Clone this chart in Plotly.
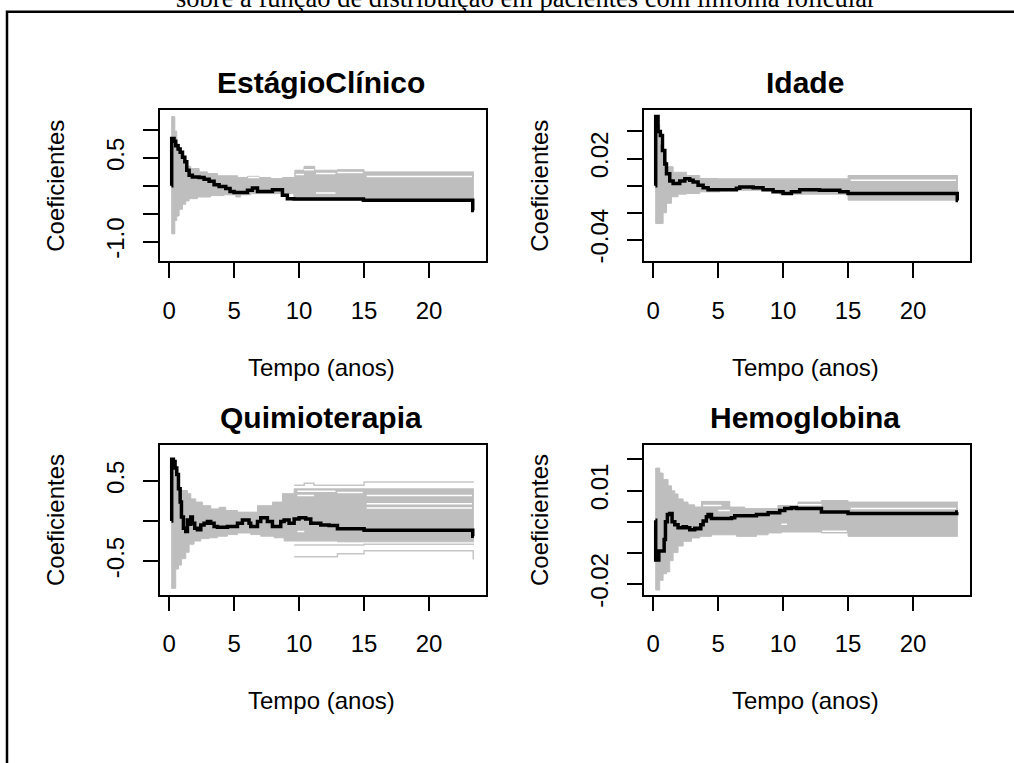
import plotly.graph_objects as go

W, H = 1014, 763

# ---------------- data ----------------
# Panel 1: EstágioClínico
est_t = [0.18, 0.20, 0.38, 0.51, 0.69, 0.85, 1.03, 1.21, 1.36, 1.54, 1.79, 2.31, 2.69, 3.08, 3.46,
         3.85, 4.36, 4.69, 5.00, 6.03, 6.41, 6.80, 7.95, 8.72, 9.10, 9.60, 14.95, 23.36, 23.45]
est_coef = [0.00, 0.85, 0.80, 0.72, 0.66, 0.60, 0.51, 0.43, 0.28, 0.19, 0.16, 0.15, 0.12, 0.08, 0.02,
            -0.01, -0.05, -0.10, -0.12, -0.08, -0.04, -0.10, -0.07, -0.17, -0.23, -0.235, -0.26, -0.44, -0.44]
est_up_t = [0.18, 0.20, 0.44, 0.59, 0.77, 1.03, 1.28, 1.67, 2.31, 2.95, 3.72, 5.26, 6.03, 6.92, 7.82,
            8.72, 9.67, 10.38, 11.20, 12.95, 15.00, 23.45]
est_up = [0.00, 1.24, 0.98, 0.75, 0.57, 0.43, 0.35, 0.31, 0.25, 0.22, 0.18, 0.15, 0.17, 0.15, 0.13,
          0.15, 0.28, 0.35, 0.28, 0.29, 0.25, 0.25]
est_lo_t = [0.18, 0.20, 0.44, 0.59, 0.77, 1.03, 1.28, 1.54, 2.18, 3.20, 4.23, 5.13, 5.50, 6.28, 9.60,
            14.95, 23.45]
est_lo = [0.00, -0.86, -0.62, -0.54, -0.42, -0.33, -0.27, -0.23, -0.20, -0.175, -0.16, -0.20, -0.16,
          -0.14, -0.26, -0.28, -0.28]
est_gap_t0 = [6.08, 9.74, 10.38, 11.30, 12.95, 15.20, 11.30]
est_gap_t1 = [6.92, 10.38, 11.15, 12.80, 14.90, 23.30, 12.80]
est_gap_v = [0.15, 0.205, 0.29, 0.22, 0.24, 0.165, -0.13]

# Panel 2: Idade
ida_t = [0.18, 0.20, 0.38, 0.56, 0.72, 0.90, 1.03, 1.28, 1.54, 2.05, 2.44, 2.82, 3.08, 3.46, 3.85,
         4.23, 6.41, 6.67, 7.70, 8.46, 9.23, 10.00, 10.64, 11.28, 12.80, 14.36, 15.00, 23.40, 23.46]
ida_coef = [0.000, 0.051, 0.040, 0.037, 0.026, 0.016, 0.0087, 0.0034, 0.0015, 0.0034, 0.0050, 0.0040,
            0.0027, 0.0002, -0.0015, -0.0030, -0.0020, -0.0010, -0.0015, -0.0030, -0.0046, -0.0058,
            -0.0046, -0.0030, -0.0034, -0.0046, -0.0058, -0.0110, -0.0110]
ida_up_t = [0.18, 0.20, 0.51, 0.77, 1.03, 1.54, 2.56, 3.59, 5.00, 15.00, 23.46]
ida_up = [0.000, 0.045, 0.030, 0.018, 0.014, 0.0099, 0.0075, 0.0053, 0.0050, 0.0075, 0.0075]
ida_lo_t = [0.18, 0.20, 0.77, 1.03, 1.41, 1.92, 2.56, 3.59, 5.13, 9.74, 15.00, 23.46]
ida_lo = [0.000, -0.028, -0.020, -0.013, -0.0082, -0.0063, -0.0058, -0.0046, -0.0034, -0.0063,
          -0.0107, -0.0107]
ida_gap_t0 = [15.20]
ida_gap_t1 = [23.30]
ida_gap_v = [0.0040]

# Panel 3: Quimioterapia
qui_t = [0.18, 0.20, 0.33, 0.46, 0.59, 0.72, 0.85, 0.95, 1.10, 1.28, 1.41, 1.54, 1.67, 1.79, 1.97,
         2.18, 2.44, 2.69, 2.95, 3.20, 3.46, 3.72, 4.49, 5.26, 5.64, 6.15, 6.28, 6.80, 7.05, 7.56,
         7.95, 8.59, 8.85, 9.23, 9.62, 10.00, 10.51, 10.90, 11.67, 12.31, 12.95, 15.00, 23.36, 23.45]
qui_coef = [0.00, 0.77, 0.74, 0.66, 0.58, 0.40, 0.235, 0.05, -0.09, -0.13, 0.012, -0.04, 0.05, -0.03,
            -0.09, -0.11, -0.05, -0.03, -0.008, -0.03, -0.07, -0.08, -0.07, -0.03, 0.012, -0.03,
            -0.07, -0.008, 0.04, -0.008, -0.07, -0.008, 0.012, -0.03, 0.024, 0.04, 0.024, -0.03,
            -0.05, -0.057, -0.097, -0.115, -0.19, -0.19]
qui_up_t = [0.18, 0.20, 0.33, 0.46, 0.59, 0.72, 0.85, 1.41, 1.67, 2.05, 2.56, 3.20, 3.85, 4.36, 5.26,
            6.80, 7.95, 8.72, 9.62, 15.00, 23.45]
qui_up = [0.00, 0.70, 0.65, 0.55, 0.45, 0.40, 0.38, 0.34, 0.275, 0.235, 0.19, 0.15, 0.17, 0.13, 0.11,
          0.19, 0.235, 0.34, 0.40, 0.40, 0.40]
qui_lo_t = [0.18, 0.20, 0.51, 0.72, 0.95, 1.28, 1.54, 1.92, 2.44, 3.08, 3.72, 4.49, 5.26, 6.28, 7.05,
            8.08, 8.85, 9.62, 12.95, 23.45]
qui_lo = [0.00, -0.84, -0.60, -0.55, -0.47, -0.39, -0.29, -0.25, -0.22, -0.21, -0.19, -0.17, -0.15,
          -0.17, -0.19, -0.21, -0.25, -0.25, -0.26, -0.26]
qui_out_up_t = [9.62, 10.40, 11.15, 15.00, 23.45]
qui_out_up = [0.445, 0.47, 0.445, 0.486, 0.486]
qui_out_lo1_t = [9.62, 12.95, 15.00, 23.45]
qui_out_lo1 = [-0.30, -0.30, -0.29, -0.29]
qui_out_lo2_t = [9.62, 12.95, 15.00, 23.40, 23.45]
qui_out_lo2 = [-0.445, -0.41, -0.37, -0.47, -0.47]
qui_gap_t0 = [9.87, 9.87, 12.95, 15.20, 15.20, 15.20, 9.87]
qui_gap_t1 = [11.15, 10.40, 14.90, 23.30, 23.30, 23.30, 12.80]
qui_gap_v = [0.316, -0.13, 0.356, 0.316, 0.215, 0.16, 0.37]

# Panel 4: Hemoglobina
hem_t = [0.18, 0.20, 0.44, 0.85, 0.95, 1.10, 1.28, 1.46, 1.67, 1.92, 2.31, 2.56, 2.82, 3.20, 3.46,
         3.67, 3.85, 4.10, 4.23, 4.49, 6.03, 6.28, 7.95, 8.85, 9.74, 10.13, 10.64, 11.03, 12.95,
         15.00, 23.36, 23.45]
hem_coef = [0.0005, -0.0123, -0.0094, -0.0057, 0.0, 0.0023, 0.0026, 0.0, -0.0010, -0.0019, -0.0016,
            -0.0019, -0.0026, -0.0021, -0.0023, -0.0010, 0.0002, 0.0016, 0.0023, 0.0010, 0.00125,
            0.0019, 0.0023, 0.0029, 0.0036, 0.0042, 0.0045, 0.0042, 0.0031, 0.0026, 0.0031, 0.0031]
hem_up_t = [0.18, 0.20, 0.51, 0.77, 1.15, 1.41, 1.67, 1.92, 2.31, 2.69, 3.20, 3.72, 5.90, 7.05, 9.60,
            11.15, 12.95, 15.00, 23.45]
hem_up = [0.0, 0.0172, 0.0156, 0.0135, 0.0115, 0.0099, 0.0089, 0.0073, 0.0063, 0.0054, 0.0047, 0.0065,
          0.0047, 0.0042, 0.0052, 0.0063, 0.0068, 0.0063, 0.0063]
hem_lo_t = [0.18, 0.20, 0.51, 0.77, 1.03, 1.28, 1.54, 1.92, 2.31, 2.95, 3.59, 4.49, 6.41, 7.95, 8.85,
            9.87, 12.95, 15.00, 23.45]
hem_lo = [0.0, -0.0219, -0.0188, -0.0167, -0.0161, -0.0125, -0.0099, -0.0078, -0.0063, -0.0052,
          -0.0047, -0.0042, -0.0047, -0.0042, -0.0036, -0.0033, -0.0036, -0.0047, -0.0047]
hem_gap_t0 = [3.85, 5.00, 9.87, 11.15, 13.00, 15.20]
hem_gap_t1 = [5.26, 5.90, 10.30, 12.95, 14.90, 23.30]
hem_gap_v = [0.0052, 0.0036, -0.0008, 0.0054, -0.0031, 0.0042]

x_ticks = [0, 5, 10, 15, 20]
x_ticktext = ["0", "5", "10", "15", "20"]

titles = ["EstágioClínico", "Idade", "Quimioterapia", "Hemoglobina"]
y_tickvals = [[-1.0, -0.5, 0.0, 0.5, 1.0], [-0.04, -0.02, 0.0, 0.02, 0.04],
              [-0.5, 0.0, 0.5], [-0.02, -0.01, 0.0, 0.01, 0.02]]
y_ticktext = [["-1.0", "", "", "0.5", ""], ["-0.04", "", "", "0.02", ""],
              ["-0.5", "", "0.5"], ["-0.02", "", "", "0.01", ""]]
y_ranges = [[-1.355, 1.357], [-0.056, 0.0558], [-0.919, 0.943], [-0.0234, 0.0245]]
x_range = [-0.70, 24.38]

main_title = "sobre a função de distribuição em pacientes com linfoma folicular"
x_title = "Tempo (anos)"
y_title = "Coeficientes"

# ---------------- layout geometry (pixels) ----------------
boxes = [(160, 486, 112, 266), (644, 970, 112, 266), (160, 486, 453, 605), (644, 970, 453, 605)]

panel_data = [
    dict(t=est_t, c=est_coef, ut=est_up_t, u=est_up, lt=est_lo_t, l=est_lo,
         gt0=est_gap_t0, gt1=est_gap_t1, gv=est_gap_v, outs=[]),
    dict(t=ida_t, c=ida_coef, ut=ida_up_t, u=ida_up, lt=ida_lo_t, l=ida_lo,
         gt0=ida_gap_t0, gt1=ida_gap_t1, gv=ida_gap_v, outs=[]),
    dict(t=qui_t, c=qui_coef, ut=qui_up_t, u=qui_up, lt=qui_lo_t, l=qui_lo,
         gt0=qui_gap_t0, gt1=qui_gap_t1, gv=qui_gap_v,
         outs=[(qui_out_up_t, qui_out_up), (qui_out_lo1_t, qui_out_lo1), (qui_out_lo2_t, qui_out_lo2)]),
    dict(t=hem_t, c=hem_coef, ut=hem_up_t, u=hem_up, lt=hem_lo_t, l=hem_lo,
         gt0=hem_gap_t0, gt1=hem_gap_t1, gv=hem_gap_v, outs=[]),
]

GREY = "#BEBEBE"
LGREY = "#C6C6C6"
SANS = "Liberation Sans, Arial, sans-serif"
SERIF = "Liberation Serif, Times New Roman, serif"

fig = go.Figure()
annotations = []
layout_axes = {}

for i, (pd_, box) in enumerate(zip(panel_data, boxes)):
    n = i + 1
    xa = "x" if n == 1 else f"x{n}"
    ya = "y" if n == 1 else f"y{n}"
    common = dict(xaxis=xa, yaxis=ya, mode="lines", showlegend=False, hoverinfo="skip")
    fig.add_trace(go.Scatter(x=pd_["lt"], y=pd_["l"], line=dict(color=GREY, width=1, shape="hv"), **common))
    fig.add_trace(go.Scatter(x=pd_["ut"], y=pd_["u"], line=dict(color=GREY, width=1, shape="hv"),
                             fill="tonexty", fillcolor=GREY, **common))
    for ot, ov in pd_["outs"]:
        fig.add_trace(go.Scatter(x=ot, y=ov, line=dict(color=LGREY, width=1.5, shape="hv"), **common))
    for a, b, v in zip(pd_["gt0"], pd_["gt1"], pd_["gv"]):
        fig.add_trace(go.Scatter(x=[a, b], y=[v, v], line=dict(color="white", width=1.5), **common))
    fig.add_trace(go.Scatter(x=pd_["t"], y=pd_["c"], line=dict(color="black", width=3.5, shape="hv"), **common))

    l, r, t, b = box
    axis_common = dict(showline=True, mirror=True, linecolor="black", linewidth=1.5,
                       ticks="outside", ticklen=15, tickwidth=1.5, tickcolor="black",
                       showgrid=False, zeroline=False,
                       tickfont=dict(family=SANS, size=24, color="black"))
    layout_axes["xaxis" if n == 1 else f"xaxis{n}"] = dict(
        domain=[l / W, r / W], anchor=ya, range=x_range, tickmode="array",
        tickvals=x_ticks, ticktext=x_ticktext, ticklabelstandoff=12, **axis_common)
    layout_axes["yaxis" if n == 1 else f"yaxis{n}"] = dict(
        domain=[1 - b / H, 1 - t / H], anchor=xa, range=y_ranges[i], tickmode="array",
        tickvals=y_tickvals[i], ticktext=y_ticktext[i], tickangle=-90, ticklabelstandoff=10,
        **axis_common)

    cx = (l + r) / 2
    annotations.append(dict(text=f"<b>{titles[i]}</b>", x=(cx - 2) / W, y=1 - (t - 28) / H,
                            xref="paper", yref="paper", showarrow=False, xanchor="center",
                            yanchor="middle", borderpad=0,
                            font=dict(family=SANS, size=30, color="black")))
    annotations.append(dict(text=x_title, x=(cx - 2) / W, y=1 - (b + 108) / H,
                            xref="paper", yref="paper", showarrow=False, xanchor="center",
                            yanchor="middle", borderpad=0,
                            font=dict(family=SANS, size=24, color="black")))
    annotations.append(dict(text=y_title, x=(l - 104) / W, y=1 - ((t + b) / 2) / H,
                            xref="paper", yref="paper", showarrow=False, xanchor="center",
                            yanchor="middle", textangle=-90, borderpad=0,
                            font=dict(family=SANS, size=24, color="black")))

annotations.append(dict(text=main_title, x=526 / W, y=1 - 14 / H, xref="paper", yref="paper",
                        showarrow=False, xanchor="center", yanchor="bottom", borderpad=0,
                        font=dict(family=SERIF, size=26.5, color="black")))

shapes = [dict(type="rect", xref="paper", yref="paper", x0=7 / W, x1=1030 / W,
               y0=1 - 790 / H, y1=1 - 12 / H, line=dict(color="black", width=2.5),
               fillcolor="rgba(0,0,0,0)", layer="above")]

fig.update_layout(width=W, height=H, margin=dict(l=0, r=0, t=0, b=0),
                  paper_bgcolor="white", plot_bgcolor="white",
                  annotations=annotations, shapes=shapes, **layout_axes)

fig.write_html("out.html", config={"displayModeBar": False},
               post_script="document.body.style.margin='0px';document.body.style.overflow='hidden';")
